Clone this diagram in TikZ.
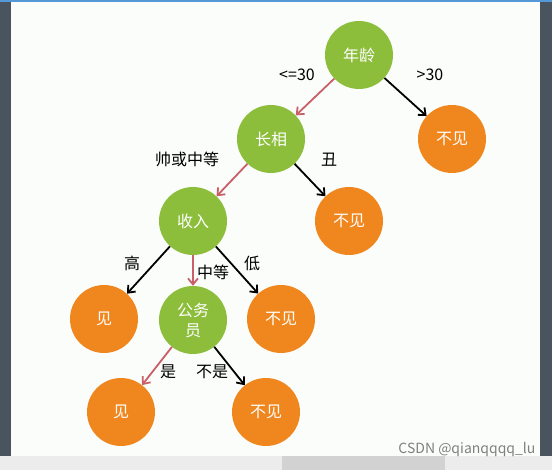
\documentclass[tikz,border=0pt]{standalone}
\usepackage{fontspec}
\setmainfont{Noto Sans CJK SC}
\usetikzlibrary{arrows.meta}
\definecolor{attrgreen}{RGB}{140,190,60}
\definecolor{leaforange}{RGB}{240,135,30}
\definecolor{pathred}{RGB}{200,95,105}
\definecolor{framegray}{RGB}{74,84,94}
\definecolor{paper}{RGB}{251,253,251}

\tikzset{
  attr/.style={circle, fill=attrgreen, text=white, minimum size=68pt, inner sep=0pt,
    align=center, font=\fontsize{16}{20}\selectfont},
  leaf/.style={attr, fill=leaforange},
  chosen/.style={-{Straight Barb[length=6pt,width=10pt]}, line width=1.8pt, pathred},
  other/.style={chosen, black},
  lbl/.style={font=\fontsize{16}{18}\selectfont}
}

\begin{document}
\begin{tikzpicture}[x=1pt,y=-1pt]
\useasboundingbox (0,0) rectangle (552,470);
% frame of the screenshot
\fill[paper] (0,0) rectangle (552,470);
\fill[framegray] (0,0) rectangle (11,456);
\fill[framegray] (540,0) rectangle (552,456);
\fill[cyan!60!blue!70] (0,0) rectangle (552,2.5);
\fill[gray!15] (0,456) rectangle (552,470);
\fill[gray!35] (282,456) rectangle (445,470);

% root and first split
\node[attr] (age) at (359,55) {年龄};
\node[attr] (looks) at (271,139) {长相};
\node[leaf] (no1) at (452,139) {不见};
\draw[chosen] (age) -- (looks);
\draw[other] (age) -- (no1);
\node[lbl] (l1) at (297,75) {<=30};
\node[lbl] (l2) at (430,75) {>30};

% looks
\node[attr] (income) at (193,221) {收入};
\node[leaf] (no2) at (349,221) {不见};
\draw[chosen] (looks) -- (income);
\draw[other] (looks) -- (no2);
\node[lbl] (l3) at (187,159) {帅或中等};
\node[lbl] (l4) at (329,160) {丑};

% income
\node[leaf] (yes1) at (104,319) {见};
\node[attr] (civil) at (193,320) {公务\\员};
\node[leaf] (no3) at (281,319) {不见};
\draw[other] (income) -- (yes1);
\draw[chosen] (income) -- (civil);
\draw[other] (income) -- (no3);
\node[lbl] (l5) at (132,263) {高};
\node[lbl] (l6) at (213,272) {中等};
\node[lbl] (l7) at (252,263) {低};

% civil servant
\node[leaf] (yes2) at (121,412) {见};
\node[leaf] (no4) at (266,412) {不见};
\draw[chosen] (civil) -- (yes2);
\draw[other] (civil) -- (no4);
\node[lbl] (l8) at (168,372) {是};
\node[lbl] (l9) at (212,372) {不是};

\node[anchor=east, text=gray, font=\fontsize{14}{16}\selectfont] (mark) at (539,450) {CSDN @qianqqqq\_lu};
\end{tikzpicture}
\end{document}
